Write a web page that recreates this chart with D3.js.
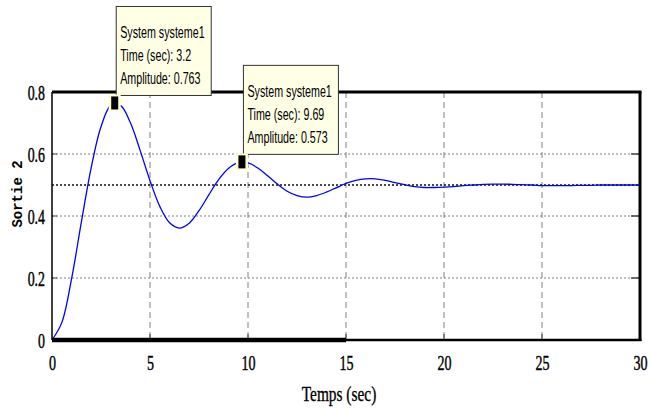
<!DOCTYPE html>
<html><head><meta charset="utf-8">
<script src="https://cdn.jsdelivr.net/npm/d3@7"></script>
<style>body{margin:0;background:#fff}svg{display:block}</style>
</head><body><svg id="c" width="650" height="410"></svg>
<script>
const times = [0,0.5,1,1.5,2,2.5,3,3.5,4,4.5,5,5.5,6,6.5,7,7.5,8,8.5,9,9.5,10,10.5,11,11.5,12,12.5,13,13.5,14,14.5,15,15.5,16,16.5,17,17.5,18,18.5,19,19.5,20,20.5,21,21.5,22,22.5,23,23.5,24,24.5,25,25.5,26,26.5,27,27.5,28,28.5,29,29.5,30];
const amplitude = [0,0.056,0.198,0.381,0.556,0.688,0.756,0.756,0.701,0.611,0.514,0.431,0.378,0.361,0.377,0.417,0.468,0.517,0.553,0.572,0.571,0.555,0.530,0.503,0.480,0.466,0.461,0.466,0.477,0.491,0.505,0.515,0.520,0.520,0.515,0.508,0.501,0.495,0.492,0.492,0.493,0.495,0.498,0.500,0.502,0.503,0.503,0.502,0.501,0.500,0.498,0.498,0.498,0.498,0.499,0.499,0.500,0.500,0.500,0.500,0.500];
const steadyState = 0.5;
const xTicks = [0,5,10,15,20,25,30];
const yTicks = [0,0.2,0.4,0.6,0.8];
const tipTimes = [3.2, 9.69];
const tipAmps = [0.763, 0.573];
const tipSystem = ["System systeme1","System systeme1"];
const xLabel = "Temps (sec)";
const yLabel = "Sortie 2";

const L=52,R=640,T=92,B=340;
const svg=d3.select("#c");
const x=d3.scaleLinear().domain([0,30]).range([L,R]);
const y=d3.scaleLinear().domain([0,0.8]).range([B,T]);
const serif="'Liberation Serif','Times New Roman',serif";

// grid
svg.append("g").selectAll("line").data(xTicks.filter(v=>v>0&&v<30)).join("line")
  .attr("x1",d=>x(d)).attr("x2",d=>x(d)).attr("y1",T).attr("y2",B)
  .attr("stroke","#808080").attr("stroke-width",1).attr("stroke-dasharray","6,4");
svg.append("g").selectAll("line").data(yTicks.filter(v=>v>0&&v<0.8)).join("line")
  .attr("x1",L).attr("x2",R).attr("y1",d=>y(d)).attr("y2",d=>y(d))
  .attr("stroke","#808080").attr("stroke-width",1).attr("stroke-dasharray","2,2");
// steady-state line
svg.append("line").attr("x1",L).attr("x2",R).attr("y1",y(steadyState)).attr("y2",y(steadyState))
  .attr("stroke","#111").attr("stroke-width",1.3).attr("stroke-dasharray","2,2");

// curve
const pts=times.map((t,i)=>[t,amplitude[i]]);
svg.append("path").datum(pts)
  .attr("d",d3.line().x(d=>x(d[0])).y(d=>y(d[1])).curve(d3.curveCatmullRom))
  .attr("fill","none").attr("stroke","#0000ff").attr("stroke-width",1.3);

// ticks
const tk=svg.append("g").attr("stroke","#444").attr("stroke-width",1);
yTicks.filter(v=>v>0&&v<0.8).forEach(v=>{
  tk.append("line").attr("x1",L).attr("x2",L+5).attr("y1",y(v)).attr("y2",y(v));
  tk.append("line").attr("x1",R-9).attr("x2",R).attr("y1",y(v)).attr("y2",y(v)).attr("stroke-width",1.5);
});
xTicks.filter(v=>v>0&&v<30).forEach(v=>{
  tk.append("line").attr("x1",x(v)).attr("x2",x(v)).attr("y1",B).attr("y2",B-6);
});

// frame
svg.append("line").attr("x1",L).attr("x2",L).attr("y1",T).attr("y2",B).attr("stroke","#000").attr("stroke-width",1.5);
svg.append("line").attr("x1",L).attr("x2",R+1.5).attr("y1",T).attr("y2",T).attr("stroke","#000").attr("stroke-width",3);
svg.append("line").attr("x1",R).attr("x2",R).attr("y1",T).attr("y2",B+1).attr("stroke","#000").attr("stroke-width",3);
svg.append("line").attr("x1",x(15)).attr("x2",R+1.5).attr("y1",B).attr("y2",B).attr("stroke","#000").attr("stroke-width",2.5);
svg.append("line").attr("x1",L).attr("x2",x(15)).attr("y1",B).attr("y2",B).attr("stroke","#000").attr("stroke-width",4.5);

// axes labels
const yAx=svg.append("g").attr("transform",`translate(${L},0)`)
  .call(d3.axisLeft(y).tickValues(yTicks).tickSize(0).tickFormat(d=>d===0?"0":d3.format(".1f")(d)));
yAx.select(".domain").remove();
yAx.selectAll("text").attr("x",0).attr("dy",0)
  .attr("transform",`translate(-7,7) scale(0.66,1)`)
  .attr("font-family",serif).attr("font-size",21).attr("fill","#000")
  .attr("stroke","#000").attr("stroke-width",0.45);
const xAx=svg.append("g").attr("transform",`translate(0,${B})`)
  .call(d3.axisBottom(x).tickValues(xTicks).tickSize(0).tickFormat(d3.format("d")));
xAx.select(".domain").remove();
xAx.selectAll("text").attr("y",0).attr("dy",0)
  .attr("transform",`translate(0,30) scale(0.64,1)`)
  .attr("font-family",serif).attr("font-size",22).attr("fill","#000")
  .attr("stroke","#000").attr("stroke-width",0.45);

svg.append("text").text(xLabel).attr("text-anchor","middle")
  .attr("transform",`translate(339,401) scale(0.7,1)`)
  .attr("font-family",serif).attr("font-size",22)
  .attr("stroke","#000").attr("stroke-width",0.35);
svg.append("text").text(yLabel).attr("text-anchor","middle")
  .attr("transform",`translate(22,194) rotate(-90)`)
  .attr("font-family","'Liberation Mono','Courier New',monospace").attr("font-weight","bold").attr("font-size",14);

// datatips
tipTimes.forEach((t,i)=>{
  const mx=x(t), my=y(tipAmps[i]);
  const bw=95, bh=89;
  const bx=mx+1.5, by=my-8-bh;
  const g=svg.append("g");
  g.append("rect").attr("x",bx).attr("y",by).attr("width",bw).attr("height",bh)
    .attr("fill","#ffffe6").attr("stroke","#333").attr("stroke-width",1);
  const lines=[tipSystem[i],"Time (sec): "+t,"Amplitude: "+tipAmps[i]];
  lines.forEach((s,j)=>{
    g.append("text").text(s)
      .attr("transform",`translate(${bx+4},${by+32+j*23}) scale(0.63,1)`)
      .attr("font-family","'Liberation Sans',Arial,sans-serif").attr("font-size",17).attr("fill","#000");
  });
  g.append("rect").attr("x",mx-6).attr("y",my-9).attr("width",12).attr("height",17).attr("fill","#ffffcc");
  g.append("rect").attr("x",mx-3.5).attr("y",my-7).attr("width",7).attr("height",13).attr("fill","#000");
});
</script></body></html>
